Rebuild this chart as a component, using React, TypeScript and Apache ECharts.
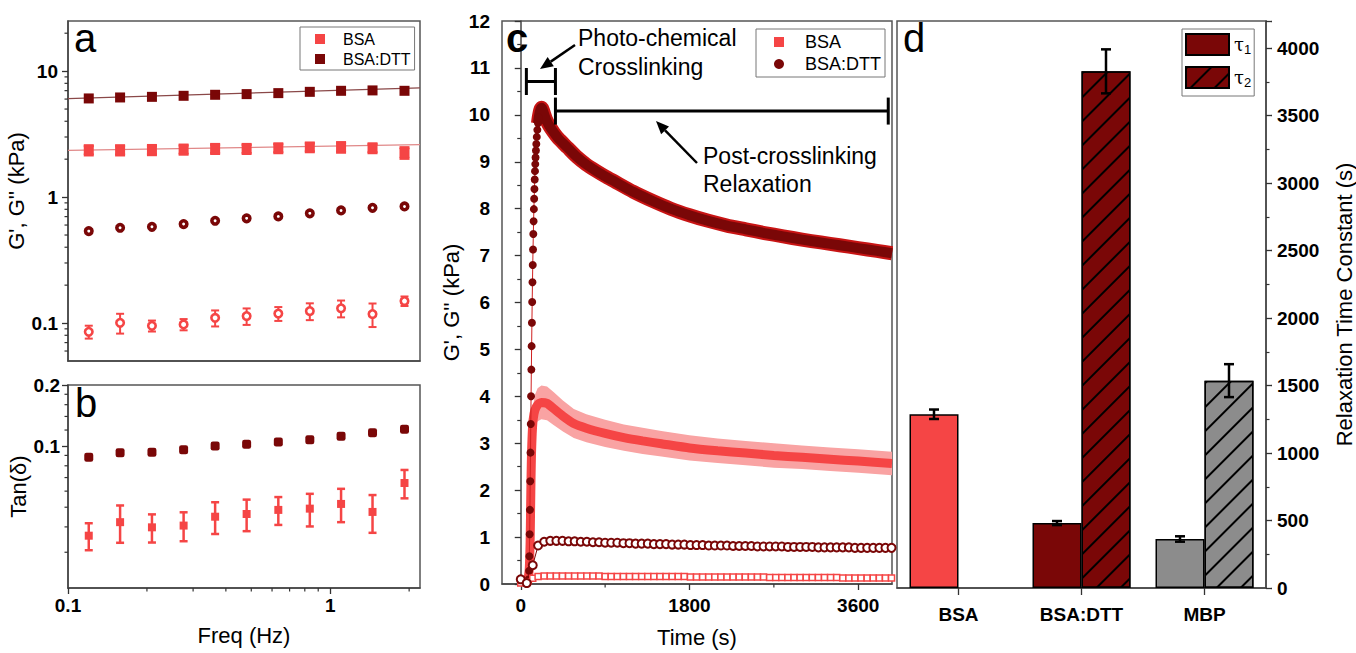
import React, { useEffect, useRef } from 'react';
import * as echarts from 'echarts';

const FONT = '"Liberation Sans", Arial, Helvetica, sans-serif';
const RED = '#F54545';
const DARK = '#7A0707';
const GRAY = '#8C8C8C';
const PINK = '#F9A3A3';

// ---------- Panels a & b: frequency sweep ----------
const freq = [0.12, 0.158, 0.209, 0.276, 0.364, 0.48, 0.634, 0.836, 1.1, 1.45, 1.92];
const bsaGp = [2.36, 2.36, 2.37, 2.39, 2.42, 2.42, 2.45, 2.49, 2.49, 2.45, 2.25];
const bsaGpErr = [0.2, 0.2, 0.2, 0.2, 0.2, 0.2, 0.2, 0.2, 0.22, 0.2, 0.22];
const dttGp = [6.07, 6.18, 6.25, 6.37, 6.49, 6.57, 6.69, 6.85, 6.98, 7.03, 6.98];
const bsaGpp = [0.0853, 0.1005, 0.0952, 0.0976, 0.11, 0.1137, 0.119, 0.1245, 0.131, 0.118, 0.1496];
const bsaGppErr = [0.01, 0.018, 0.0095, 0.01, 0.016, 0.017, 0.015, 0.019, 0.02, 0.025, 0.013];
const dttGpp = [0.537, 0.571, 0.581, 0.611, 0.649, 0.678, 0.703, 0.743, 0.784, 0.822, 0.843];
const bsaFit = [[0.1, 2.35], [2.2, 2.61]];
const dttFit = [[0.1, 6.05], [2.2, 7.36]];
const bsaTan = [0.0362, 0.0422, 0.0398, 0.0406, 0.0449, 0.0463, 0.0485, 0.0492, 0.0519, 0.0474, 0.0658];
const bsaTanErr = [0.0055, 0.0088, 0.0063, 0.0066, 0.008, 0.0082, 0.0076, 0.009, 0.0097, 0.01, 0.0105];
const dttTan = [0.0881, 0.0928, 0.0932, 0.096, 0.1001, 0.102, 0.1048, 0.1076, 0.1117, 0.1164, 0.121];
const aYMinor = [0.06, 0.07, 0.08, 0.09, 0.2, 0.3, 0.4, 0.5, 0.6, 0.7, 0.8, 0.9, 2, 3, 4, 5, 6, 7, 8, 9, 20];
const bYMinor = [0.03, 0.04, 0.05, 0.06, 0.07, 0.08, 0.09, 0.12, 0.14, 0.16, 0.18];
const bXMinor = [0.2, 0.3, 0.4, 0.5, 0.6, 0.7, 0.8, 0.9, 2];

// ---------- Panel c: time sweep ----------
const riseT = [86, 89, 92, 95, 98, 101, 104, 107, 110, 113, 116, 119, 122, 125, 128, 131, 134, 137, 140, 143, 146, 149, 152, 155, 158, 162, 166, 171, 177, 184, 192];
const riseV = [0.1, 0.28, 0.59, 1.06, 1.58, 2.19, 2.8, 3.41, 4.0, 4.57, 5.07, 5.57, 6.01, 6.43, 6.8, 7.13, 7.46, 7.73, 7.99, 8.21, 8.42, 8.62, 8.8, 8.95, 9.09, 9.24, 9.38, 9.53, 9.68, 9.82, 9.94];
const decT = [184, 192, 200, 212, 224, 236, 250, 270, 300, 350, 400, 500, 600, 700, 800, 900, 1000, 1200, 1400, 1600, 1800, 2000, 2200, 2400, 2600, 2800, 3000, 3200, 3400, 3600, 3800, 3960];
const decV = [9.82, 9.94, 10.03, 10.12, 10.15, 10.1, 10.01, 9.9, 9.78, 9.63, 9.5, 9.3, 9.1, 8.94, 8.81, 8.69, 8.58, 8.36, 8.17, 8.0, 7.86, 7.74, 7.64, 7.56, 7.48, 7.41, 7.34, 7.28, 7.22, 7.16, 7.1, 7.05];
const bsaT = [70, 90, 100, 105, 110, 115, 122, 132, 150, 180, 220, 280, 350, 450, 566, 700, 900, 1100, 1300, 1500, 1800, 2100, 2400, 2700, 3000, 3300, 3600, 3960];
const bsaV = [0, 0.3, 0.9, 1.6, 2.3, 2.8, 3.2, 3.5, 3.7, 3.82, 3.87, 3.85, 3.74, 3.58, 3.42, 3.32, 3.21, 3.12, 3.05, 2.99, 2.9, 2.84, 2.79, 2.74, 2.7, 2.66, 2.62, 2.57];
const bsaE = [0, 0.02, 0.05, 0.1, 0.15, 0.2, 0.25, 0.3, 0.33, 0.35, 0.36, 0.36, 0.35, 0.33, 0.31, 0.3, 0.29, 0.28, 0.28, 0.27, 0.27, 0.26, 0.26, 0.26, 0.25, 0.25, 0.25, 0.25];
const gppT = [0, 64, 128, 185, 250, 315, 380, 445, 510, 575, 640, 705, 770, 835, 900, 965, 1030, 1095, 1160, 1225, 1290, 1355, 1420, 1485, 1550, 1615, 1680, 1745, 1810, 1875, 1940, 2005, 2070, 2135, 2200, 2265, 2330, 2395, 2460, 2525, 2590, 2655, 2720, 2785, 2850, 2915, 2980, 3045, 3110, 3175, 3240, 3305, 3370, 3435, 3500, 3565, 3630, 3695, 3760, 3825, 3890, 3955];
const dttGppT = [0.1, 0.02, 0.4, 0.82, 0.9, 0.92, 0.92, 0.92, 0.91, 0.91, 0.9, 0.9, 0.89, 0.89, 0.88, 0.88, 0.88, 0.87, 0.87, 0.86, 0.86, 0.86, 0.85, 0.85, 0.85, 0.84, 0.84, 0.84, 0.83, 0.83, 0.83, 0.82, 0.82, 0.82, 0.82, 0.81, 0.81, 0.81, 0.81, 0.8, 0.8, 0.8, 0.8, 0.8, 0.79, 0.79, 0.79, 0.79, 0.79, 0.78, 0.78, 0.78, 0.78, 0.78, 0.78, 0.77, 0.77, 0.77, 0.77, 0.77, 0.77, 0.77];
const bsaGppT = [0.02, 0.05, 0.12, 0.16, 0.17, 0.17, 0.17, 0.17, 0.17, 0.17, 0.17, 0.17, 0.17, 0.17, 0.16, 0.16, 0.16, 0.16, 0.16, 0.16, 0.16, 0.16, 0.16, 0.16, 0.16, 0.16, 0.16, 0.16, 0.15, 0.15, 0.15, 0.15, 0.15, 0.15, 0.15, 0.15, 0.15, 0.15, 0.15, 0.15, 0.15, 0.14, 0.14, 0.14, 0.14, 0.14, 0.14, 0.14, 0.14, 0.14, 0.14, 0.14, 0.14, 0.13, 0.13, 0.13, 0.13, 0.13, 0.13, 0.13, 0.13, 0.13];
const cXMinor = [900, 2700];
const brackets = [[60, 370, 10.71], [370, 3920, 10.08]];

// ---------- Panel d: relaxation time constants ----------
const groups = ['BSA', 'BSA:DTT', 'MBP'];
const tau1 = [1287, 481, 363];
const tau1Err = [35, 15, 20];
const tau2 = [null, 3827, 1536];
const tau2Err = [null, 163, 122];
const groupColors = [RED, DARK, GRAY];

const boldRich = { b: { fontWeight: 'bold', fontSize: 19, fontFamily: FONT, color: '#000' } };
const logFmt = (v: number) => '{b|' + String(parseFloat(Number(v).toPrecision(3))) + '}';
const plainFmt = (v: number) => '{b|' + String(v) + '}';
const tickLbl = { color: '#000', fontFamily: FONT, fontWeight: 'bold' as any, fontSize: 19, rich: boldRich };
const nameTxt = { color: '#000', fontFamily: FONT, fontSize: 22 };
const axLine = { show: true, lineStyle: { color: '#444', width: 1.5 } };
const tickStyle = { lineStyle: { color: '#333', width: 1.3 } };

function errBars(xi: number, yi: number, xs: number[], ys: any[], es: any[], color: string, capHalf: number, lw: number, offset = 0, z = 2) {
  const data: any[] = [];
  xs.forEach((x, i) => { if (ys[i] != null) data.push([x, ys[i], es[i]]); });
  return {
    type: 'custom', xAxisIndex: xi, yAxisIndex: yi, silent: true, z,
    data,
    renderItem: (_p: any, api: any) => {
      const x = api.value(0), y = api.value(1), e = api.value(2);
      const t = api.coord([x, y + e]);
      const b = api.coord([x, y - e]);
      const cx = t[0] + offset;
      const st = { stroke: color, lineWidth: lw };
      return {
        type: 'group', children: [
          { type: 'line', shape: { x1: cx, y1: t[1], x2: cx, y2: b[1] }, style: st },
          { type: 'line', shape: { x1: cx - capHalf, y1: t[1], x2: cx + capHalf, y2: t[1] }, style: st },
          { type: 'line', shape: { x1: cx - capHalf, y1: b[1], x2: cx + capHalf, y2: b[1] }, style: st },
        ],
      };
    },
  };
}

function minorTicks(xi: number, yi: number, vals: number[], orient: 'x' | 'y', base: number, len: number) {
  return {
    type: 'custom', xAxisIndex: xi, yAxisIndex: yi, silent: true, clip: false,
    data: vals.map((v) => (orient === 'y' ? [base, v] : [v, base])),
    renderItem: (_p: any, api: any) => {
      const pt = api.coord([api.value(0), api.value(1)]);
      const shape = orient === 'y'
        ? { x1: pt[0] - len, y1: pt[1], x2: pt[0], y2: pt[1] }
        : { x1: pt[0], y1: pt[1], x2: pt[0], y2: pt[1] + len };
      return { type: 'line', shape, style: { stroke: '#333', lineWidth: 1.2 } };
    },
  };
}

function arrow(x1: number, y1: number, x2: number, y2: number) {
  const ang = Math.atan2(y2 - y1, x2 - x1);
  const L = 13, W = 5.5;
  const bx = x2 - L * Math.cos(ang), by = y2 - L * Math.sin(ang);
  const px = -Math.sin(ang) * W, py = Math.cos(ang) * W;
  return [
    { type: 'line', shape: { x1, y1, x2: bx, y2: by }, style: { stroke: '#000', lineWidth: 2.5 } },
    { type: 'polygon', shape: { points: [[x2, y2], [bx + px, by + py], [bx - px, by - py]] }, style: { fill: '#000' } },
  ];
}

const hatch = { symbol: 'rect', symbolSize: 1, color: '#000', dashArrayX: [1, 0], dashArrayY: [1.6, 14.5], rotation: -Math.PI / 4 };

function buildOption(): any {
  const grid = [
    { left: 68, top: 21, width: 352, height: 340 },
    { left: 68, top: 385, width: 352, height: 203 },
    { left: 502, top: 21, width: 390, height: 567 },
    { left: 897, top: 21, width: 369, height: 567 },
  ].map((g) => ({ ...g, show: true, borderColor: '#555', borderWidth: 1.5, containLabel: false }));

  const xAxis = [
    { gridIndex: 0, type: 'log', min: 0.1, max: 2.2, axisLine: axLine, axisTick: { show: false }, axisLabel: { show: false }, splitLine: { show: false } },
    {
      gridIndex: 1, type: 'log', min: 0.1, max: 2.2, axisLine: axLine, axisTick: { show: true, length: 6, ...tickStyle },
      axisLabel: { ...tickLbl, margin: 8, formatter: logFmt, showMaxLabel: false, showMinLabel: true }, splitLine: { show: false },
      name: 'Freq (Hz)', nameLocation: 'middle', nameGap: 36, nameTextStyle: nameTxt,
    },
    {
      gridIndex: 2, type: 'value', min: -200, max: 3960, axisLine: axLine,
      axisTick: { show: true, length: 6, customValues: [0, 1800, 3600], ...tickStyle },
      axisLabel: { ...tickLbl, margin: 12, customValues: [0, 1800, 3600], formatter: plainFmt }, splitLine: { show: false },
      name: 'Time (s)', nameLocation: 'middle', nameGap: 42, nameTextStyle: nameTxt,
    },
    {
      gridIndex: 3, type: 'category', data: groups, axisLine: axLine,
      axisTick: { show: true, alignWithLabel: true, length: 7, ...tickStyle },
      axisLabel: { color: '#000', fontFamily: FONT, fontWeight: 'bold', fontSize: 19, margin: 17 }, splitLine: { show: false },
    },
  ];

  const yAxis = [
    {
      gridIndex: 0, type: 'log', min: 0.05, max: 25, axisLine: axLine, axisTick: { show: true, length: 6, ...tickStyle },
      axisLabel: { ...tickLbl, margin: 10, formatter: logFmt, showMinLabel: false, showMaxLabel: false }, splitLine: { show: false },
      name: "G', G'' (kPa)", nameLocation: 'middle', nameGap: 20, nameTextStyle: nameTxt,
    },
    {
      gridIndex: 1, type: 'log', min: 0.02, max: 0.2, axisLine: axLine, axisTick: { show: true, length: 6, ...tickStyle },
      axisLabel: { ...tickLbl, margin: 8, formatter: logFmt, showMinLabel: false, showMaxLabel: true }, splitLine: { show: false },
      name: 'Tan(δ)', nameLocation: 'middle', nameGap: 35, nameTextStyle: nameTxt,
    },
    {
      gridIndex: 2, type: 'value', min: 0, max: 12, interval: 1, axisLine: axLine, axisTick: { show: true, length: 6, ...tickStyle },
      minorTick: { show: true, splitNumber: 2, length: 3.5, lineStyle: { color: '#333', width: 1.2 } },
      axisLabel: { ...tickLbl, margin: 12, formatter: plainFmt }, splitLine: { show: false },
      name: "G', G'' (kPa)", nameLocation: 'middle', nameGap: 40, nameTextStyle: nameTxt,
    },
    {
      gridIndex: 3, type: 'value', position: 'right', min: 0, max: 4200, interval: 500, axisLine: axLine,
      axisTick: { show: true, length: 6, ...tickStyle },
      minorTick: { show: true, splitNumber: 2, length: 3.5, lineStyle: { color: '#333', width: 1.2 } },
      axisLabel: { ...tickLbl, margin: 11, showMaxLabel: false, formatter: plainFmt }, splitLine: { show: false },
      name: 'Relaxation Time Constant (s)', nameLocation: 'middle', nameGap: 67, nameTextStyle: nameTxt,
    },
  ];

  const zip = (xs: number[], ys: any[]) => xs.map((x, i) => [x, ys[i]]);

  const series: any[] = [
    // ---- a ----
    { type: 'line', name: 'fitDTT', xAxisIndex: 0, yAxisIndex: 0, data: dttFit, symbol: 'none', silent: true, lineStyle: { color: '#8a4848', width: 1.2 }, z: 1 },
    { type: 'line', name: 'fitBSA', xAxisIndex: 0, yAxisIndex: 0, data: bsaFit, symbol: 'none', silent: true, lineStyle: { color: '#e08888', width: 1.2 }, z: 1 },
    errBars(0, 0, freq, bsaGp, bsaGpErr, RED, 5, 3),
    errBars(0, 0, freq, bsaGpp, bsaGppErr, RED, 4, 2),
    { type: 'scatter', name: 'BSA', xAxisIndex: 0, yAxisIndex: 0, data: zip(freq, bsaGp), symbol: 'rect', symbolSize: 10, itemStyle: { color: RED, opacity: 1 }, z: 3 },
    { type: 'scatter', name: 'BSA:DTT', xAxisIndex: 0, yAxisIndex: 0, data: zip(freq, dttGp), symbol: 'rect', symbolSize: 10, itemStyle: { color: DARK, opacity: 1 }, z: 3 },
    { type: 'scatter', name: 'BSA', xAxisIndex: 0, yAxisIndex: 0, data: zip(freq, bsaGpp), symbol: 'circle', symbolSize: 7.5, itemStyle: { color: '#fff', borderColor: RED, borderWidth: 2.6, opacity: 1 }, z: 3 },
    { type: 'scatter', name: 'BSA:DTT', xAxisIndex: 0, yAxisIndex: 0, data: zip(freq, dttGpp), symbol: 'circle', symbolSize: 6.5, itemStyle: { color: '#fff', borderColor: DARK, borderWidth: 3.6, opacity: 1 }, z: 3 },
    minorTicks(0, 0, aYMinor, 'y', 0.1, 3.5),
    // ---- b ----
    errBars(1, 1, freq, bsaTan, bsaTanErr, RED, 4, 2.5),
    { type: 'scatter', name: 'BSA', xAxisIndex: 1, yAxisIndex: 1, data: zip(freq, bsaTan), symbol: 'rect', symbolSize: 8, itemStyle: { color: RED, opacity: 1 }, z: 3 },
    { type: 'scatter', name: 'BSA:DTT', xAxisIndex: 1, yAxisIndex: 1, data: zip(freq, dttTan), symbol: 'roundRect', symbolSize: 9, itemStyle: { color: DARK, opacity: 1 }, z: 3 },
    minorTicks(1, 1, bYMinor, 'y', 0.1, 3.5),
    minorTicks(1, 1, bXMinor, 'x', 0.02, 3.5),
    // ---- c ----
    {
      type: 'custom', xAxisIndex: 2, yAxisIndex: 2, silent: true, z: 1, data: [[bsaT[0], bsaV[0]]],
      renderItem: (_p: any, api: any) => {
        const up = bsaT.map((t, i) => api.coord([t, bsaV[i] + bsaE[i]]));
        const lo = bsaT.map((t, i) => api.coord([t, Math.max(0, bsaV[i] - bsaE[i])])).reverse();
        return { type: 'polygon', shape: { points: up.concat(lo) }, style: { fill: PINK } };
      },
    },
    { type: 'line', name: 'BSA', xAxisIndex: 2, yAxisIndex: 2, data: zip(bsaT, bsaV), symbol: 'none', smooth: 0.2, lineStyle: { color: RED, width: 9 }, itemStyle: { color: RED }, z: 2 },
    { type: 'line', name: 'dttBand', xAxisIndex: 2, yAxisIndex: 2, data: zip(decT, decV), symbol: 'none', smooth: 0.2, silent: true, lineStyle: { color: '#C81414', width: 14, join: 'round' }, z: 3 },
    { type: 'line', name: 'dttCore', xAxisIndex: 2, yAxisIndex: 2, data: zip(decT, decV), symbol: 'none', smooth: 0.2, silent: true, lineStyle: { color: DARK, width: 10, join: 'round' }, z: 3 },
    { type: 'line', name: 'BSA:DTT', xAxisIndex: 2, yAxisIndex: 2, data: zip(riseT, riseV), symbol: 'circle', symbolSize: 8, showAllSymbol: true, lineStyle: { color: '#D02020', width: 1 }, itemStyle: { color: DARK }, z: 4 },
    { type: 'line', name: 'BSA', xAxisIndex: 2, yAxisIndex: 2, data: zip(gppT, bsaGppT), symbol: 'rect', symbolSize: 6, showAllSymbol: true, lineStyle: { color: RED, width: 1 }, itemStyle: { color: '#fff', borderColor: RED, borderWidth: 1.5 }, z: 5 },
    { type: 'line', name: 'BSA:DTT', xAxisIndex: 2, yAxisIndex: 2, data: zip(gppT, dttGppT), symbol: 'circle', symbolSize: 8, showAllSymbol: true, lineStyle: { color: DARK, width: 1 }, itemStyle: { color: '#fff', borderColor: DARK, borderWidth: 2 }, z: 5 },
    minorTicks(2, 2, cXMinor, 'x', 0, 3.5),
    {
      type: 'custom', xAxisIndex: 2, yAxisIndex: 2, silent: true, clip: false, z: 6, data: brackets,
      renderItem: (_p: any, api: any) => {
        const a = api.coord([api.value(0), api.value(2)]);
        const b = api.coord([api.value(1), api.value(2)]);
        const st = { stroke: '#000', lineWidth: 3 };
        const h = 13.5;
        return {
          type: 'group', children: [
            { type: 'line', shape: { x1: a[0], y1: a[1], x2: b[0], y2: b[1] }, style: st },
            { type: 'line', shape: { x1: a[0], y1: a[1] - h, x2: a[0], y2: a[1] + h }, style: st },
            { type: 'line', shape: { x1: b[0], y1: b[1] - h, x2: b[0], y2: b[1] + h }, style: st },
          ],
        };
      },
    },
    // ---- d ----
    {
      type: 'bar', name: 'τ1', xAxisIndex: 3, yAxisIndex: 3, barWidth: 49, barGap: '0%',
      itemStyle: { color: DARK, borderColor: '#000', borderWidth: 1.5 },
      data: tau1.map((v, i) => ({ value: v, itemStyle: { color: groupColors[i] } })), z: 2,
    },
    {
      type: 'bar', name: 'τ2', xAxisIndex: 3, yAxisIndex: 3, barWidth: 49, barGap: '0%',
      itemStyle: { color: DARK, borderColor: '#000', borderWidth: 1.5, decal: hatch },
      data: tau2.map((v, i) => (v == null ? '-' : { value: v, itemStyle: { color: groupColors[i], decal: hatch } })), z: 2,
    },
    errBars(3, 3, [0, 1, 2], tau1, tau1Err, '#000', 5, 2.5, -24.5, 4),
    errBars(3, 3, [0, 1, 2], tau2, tau2Err, '#000', 5, 2.5, 24.5, 4),
  ];

  const legBase = { orient: 'vertical', backgroundColor: '#fff', borderColor: '#777', borderWidth: 1, selectedMode: false, itemGap: 4 };
  const legend = [
    {
      ...legBase, left: 300, top: 27, padding: [4, 4, 3, 15], itemWidth: 10, itemHeight: 10,
      textStyle: { fontFamily: FONT, fontSize: 16, color: '#000', padding: [0, 0, 0, 13] },
      data: [
        { name: 'BSA', icon: 'rect', itemStyle: { color: RED, borderWidth: 0, opacity: 1 } },
        { name: 'BSA:DTT', icon: 'rect', itemStyle: { color: DARK, borderWidth: 0, opacity: 1 } },
      ],
    },
    {
      ...legBase, left: 756, top: 29, padding: [4, 4, 4, 18], itemWidth: 10, itemHeight: 10,
      textStyle: { fontFamily: FONT, fontSize: 18, color: '#000', padding: [0, 0, 0, 16] },
      data: [
        { name: 'BSA', icon: 'rect', itemStyle: { color: RED, borderWidth: 0, opacity: 1 } },
        { name: 'BSA:DTT', icon: 'circle', itemStyle: { color: DARK, borderWidth: 0, opacity: 1 } },
      ],
    },
    {
      ...legBase, left: 1182, top: 29, padding: [4, 3, 7, 3], itemWidth: 43, itemHeight: 21, itemGap: 10,
      formatter: (n: string) => (n === 'τ1' ? '{t|τ}{s|1}' : '{t|τ}{s|2}'),
      textStyle: {
        fontFamily: FONT, fontSize: 18, color: '#000',
        rich: { t: { fontSize: 18, fontFamily: '"DejaVu Serif", serif', color: '#000' }, s: { fontSize: 13, color: '#000', padding: [9, 0, 0, 0] } },
      },
      data: [
        { name: 'τ1', icon: 'rect', itemStyle: { color: DARK, borderColor: '#000', borderWidth: 2 } },
        { name: 'τ2', icon: 'rect', itemStyle: { color: DARK, borderColor: '#000', borderWidth: 2, decal: hatch } },
      ],
    },
  ];

  const letter = (t: string, x: number, y: number, bold = false) => ({
    type: 'text', left: x, top: y, z: 100,
    style: { text: t, fontFamily: FONT, fontSize: 40, fontWeight: bold ? 'bold' : 'normal', fill: '#000' },
  });
  const ann = (t: string, x: number, y: number) => ({
    type: 'text', x, y, z: 100,
    style: { text: t, fontFamily: FONT, fontSize: 23, fill: '#000', verticalAlign: 'middle', align: 'left' },
  });

  const graphic = [
    letter('a', 74, 18),
    letter('b', 75, 383),
    letter('c', 506, 18, true),
    letter('d', 903, 18),
    ann('Photo-chemical', 578, 38),
    ann('Crosslinking', 578, 67),
    ann('Post-crosslinking', 703, 156),
    ann('Relaxation', 703, 184),
    ...arrow(575, 45, 540, 69),
    ...arrow(697, 163, 656, 121),
  ];

  return {
    animation: false,
    backgroundColor: '#fff',
    textStyle: { fontFamily: FONT },
    grid, xAxis, yAxis, series, legend, graphic,
  };
}

export default function App() {
  const ref = useRef<HTMLDivElement>(null);
  useEffect(() => {
    const chart = echarts.init(ref.current!, null, { renderer: 'svg' });
    chart.setOption(buildOption());
    return () => chart.dispose();
  }, []);
  return <div ref={ref} style={{ position: 'fixed', left: 0, top: 0, width: 1356, height: 653, background: '#fff' }} />;
}
